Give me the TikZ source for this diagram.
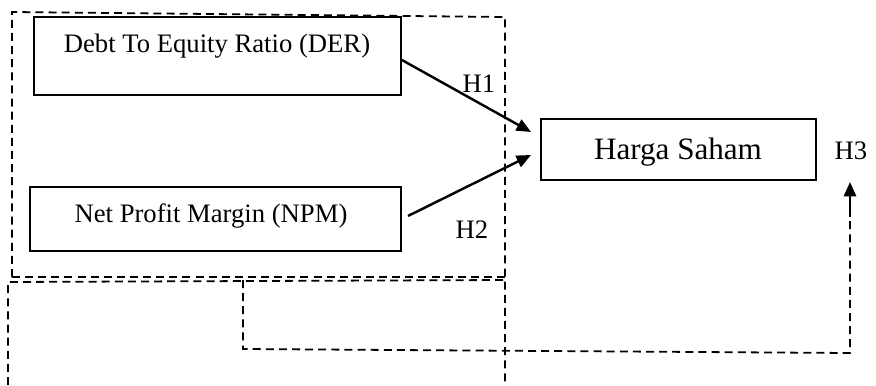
\documentclass[tikz,border=0pt]{standalone}
\usepackage{fontspec}
\setmainfont{Liberation Serif}
\usetikzlibrary{arrows.meta}
\begin{document}
\begin{tikzpicture}[x=0.45pt,y=-0.45pt,
  box/.style={draw,line width=0.75pt,inner sep=0pt},
  lbl/.style={inner sep=0pt,font=\fontsize{12}{14}\selectfont},
  big/.style={inner sep=0pt,font=\fontsize{14}{16}\selectfont},
  dline/.style={line width=0.8pt,dash pattern=on 3.6pt off 2.3pt},
  arr/.style={line width=1.1pt,-{Triangle[length=6.5pt,width=5.5pt]}}]
\useasboundingbox (0,0) rectangle (876,385);
% dashed frames
\draw[dline] (12,277) -- (12,12) -- (505,17) -- (505,385);
\draw[dline] (12,277) -- (505,277);
\draw[dline] (8,385) -- (8,282) -- (505,280);
\draw[dline] (243,280) -- (243,349) -- (850,353) -- (850,217);
% boxes
\node[box,minimum width=165.2pt,minimum height=35.1pt] (der) at (217.5,56) {};
\node[lbl,anchor=base] (dertxt) at (217,53) {Debt To Equity Ratio (DER)};
\node[box,minimum width=167pt,minimum height=28.8pt] (npm) at (215.5,219) {};
\node[lbl,anchor=base] (npmtxt) at (211,222) {Net Profit Margin (NPM)};
\node[box,minimum width=123.8pt,minimum height=27.5pt] (hs) at (678.5,149.5) {};
\node[big,anchor=base] (hstxt) at (678,160) {Harga Saham};
% labels
\node[lbl,anchor=base] (h1) at (479,93) {H1};
\node[lbl,anchor=base] (h2) at (472,238) {H2};
\node[lbl,anchor=base] (h3) at (851,160) {H3};
% arrows
\coordinate (t1) at (531,132);
\coordinate (t2) at (531,155);
\coordinate (t3) at (850,182);
\coordinate (s3) at (850,217);
\draw[arr] (der.east) ++(0,4) -- (t1);
\draw[arr,shorten <=3.1pt] (npm.east) -- (t2);
\draw[arr] (s3) -- (t3);
\end{tikzpicture}
\end{document}
